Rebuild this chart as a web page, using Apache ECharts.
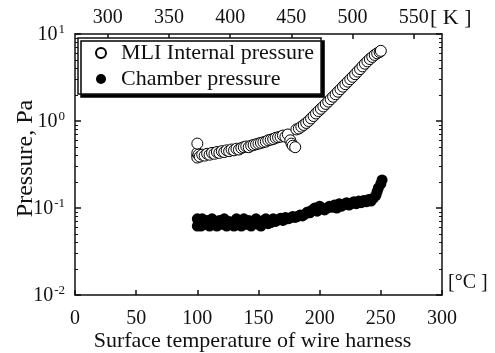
<!DOCTYPE html>
<html>
<head>
<meta charset="utf-8">
<script src="https://cdn.jsdelivr.net/npm/echarts@6/dist/echarts.min.js"></script>
<style>
  html, body { margin: 0; padding: 0; background: #fff; }
  #chart { width: 495px; height: 353px; }
</style>
</head>
<body>
<div id="chart"></div>
<script>
// surface temperature [°C], pressure [Pa]
const mliTemp = [100, 100, 100, 100, 101, 102, 104, 106, 108, 110, 112, 114, 116, 118, 120, 122, 124, 126, 128, 130,
  132, 134, 136, 138, 140, 142, 144, 146, 148, 150, 152, 154, 156, 158, 160, 162, 164, 166, 168, 170,
  172, 174, 176, 177, 178, 180, 181, 183, 185, 187, 189, 191, 193, 195, 197, 199, 201, 203, 205, 207,
  209, 211, 213, 215, 217, 219, 221, 223, 225, 227, 229, 231, 233, 235, 237, 239, 241, 243, 245, 247, 249, 250]
const mliPress = [0.40, 0.38, 0.43, 0.55, 0.41, 0.39, 0.41, 0.40, 0.42, 0.41, 0.43, 0.42, 0.44, 0.43, 0.45, 0.44, 0.46, 0.45, 0.47, 0.46,
  0.48, 0.47, 0.49, 0.50, 0.51, 0.50, 0.52, 0.53, 0.54, 0.55, 0.56, 0.57, 0.58, 0.60, 0.61, 0.62, 0.64, 0.65, 0.66, 0.68,
  0.66, 0.70, 0.60, 0.55, 0.52, 0.50, 0.80, 0.82, 0.86, 0.90, 0.95, 1.00, 1.07, 1.14, 1.22, 1.30, 1.38, 1.47, 1.57, 1.67,
  1.78, 1.90, 2.03, 2.17, 2.32, 2.48, 2.65, 2.83, 3.02, 3.22, 3.45, 3.70, 3.95, 4.25, 4.55, 4.85, 5.15, 5.45, 5.75, 6.00, 6.20, 6.40]

const chamberTemp = [100, 100, 101, 103, 104, 106, 108, 110, 112, 114, 116, 118, 120, 122, 124, 126, 128, 130, 132, 134,
  136, 138, 140, 142, 144, 146, 148, 150, 152, 154, 156, 158, 160, 162, 164, 166, 168, 170, 172, 174,
  176, 178, 180, 182, 184, 186, 188, 190, 192, 194, 196, 198, 200, 202, 204, 206, 208, 210, 212, 214,
  216, 218, 220, 222, 224, 226, 228, 230, 232, 234, 236, 238, 240, 242, 244, 246, 247, 248, 250, 251]
const chamberPress = [0.075, 0.062, 0.068, 0.062, 0.075, 0.065, 0.072, 0.062, 0.075, 0.065, 0.062, 0.072, 0.065, 0.075, 0.062, 0.070, 0.065, 0.062, 0.075, 0.068,
  0.062, 0.075, 0.065, 0.072, 0.062, 0.068, 0.075, 0.065, 0.062, 0.072, 0.075, 0.066, 0.068, 0.075, 0.070, 0.073, 0.076, 0.072, 0.078, 0.075,
  0.077, 0.080, 0.078, 0.080, 0.083, 0.081, 0.085, 0.090, 0.088, 0.095, 0.100, 0.092, 0.105, 0.098, 0.095, 0.100, 0.105, 0.102, 0.108, 0.100,
  0.112, 0.105, 0.110, 0.115, 0.108, 0.112, 0.118, 0.112, 0.120, 0.115, 0.122, 0.118, 0.125, 0.120, 0.130, 0.140, 0.155, 0.170, 0.190, 0.210]

const kelvinTicks = [300, 350, 400, 450, 500, 550]
const minorMantissas = [2, 3, 4, 5, 6, 7, 8, 9]
const decades = [-2, -1, 0]

const FONT = '"Liberation Serif", "DejaVu Serif", serif'
const INK = '#111'

// minor tick positions on a linear log10 axis laid over the log axis
const minorLog = []
decades.forEach(d => minorMantissas.forEach(m => minorLog.push(d + Math.log10(m))))

const zip = (xs, ys) => xs.map((x, i) => [x, ys[i]])

const supLabel = v => {
  const e = Math.round(Math.log10(v))
  return '{b|10}{s|' + e + '}'
}

const chart = echarts.init(document.getElementById('chart'))

const lineStyle = { color: INK, width: 1.5 }
const hiddenAxis = { show: false }

chart.setOption({
  animation: false,
  textStyle: { fontFamily: FONT, color: INK },
  grid: { left: 75, right: 53, top: 34, bottom: 58, containLabel: false, outerBoundsMode: 'none' },
  legend: {
    orient: 'vertical',
    left: 78,
    top: 38,
    itemWidth: 10,
    itemHeight: 10,
    itemGap: 4,
    padding: [4, 7, 4, 17],
    borderColor: INK,
    borderWidth: 1.5,
    backgroundColor: '#fff',
    shadowColor: '#000',
    shadowBlur: 0,
    shadowOffsetX: 3,
    shadowOffsetY: 3,
    textStyle: { fontFamily: FONT, fontSize: 22, color: INK, padding: [0, 0, 0, 10] },
    data: ['MLI Internal pressure', 'Chamber pressure']
  },
  xAxis: [
    {
      type: 'value', position: 'bottom', min: 0, max: 300, interval: 50,
      name: 'Surface temperature of wire harness', nameLocation: 'middle', nameGap: 35,
      nameMoveOverlap: false,
      nameTextStyle: { fontFamily: FONT, fontSize: 22, color: INK, padding: [0, 12, 0, 0] },
      axisLine: { onZero: false, lineStyle },
      axisTick: { inside: true, length: 5, lineStyle },
      axisLabel: { fontFamily: FONT, fontSize: 20, color: INK, margin: 14 },
      splitLine: { show: false }
    },
    {
      type: 'value', position: 'top', min: 273.15, max: 573.15,
      axisLine: { onZero: false, lineStyle },
      axisTick: { inside: true, length: 5, lineStyle, customValues: kelvinTicks },
      axisLabel: { fontFamily: FONT, fontSize: 20, color: INK, margin: 6, customValues: kelvinTicks },
      splitLine: { show: false }
    }
  ],
  yAxis: [
    {
      type: 'log', logBase: 10, min: 0.01, max: 10, position: 'left',
      name: 'Pressure, Pa', nameLocation: 'middle', nameGap: 37,
      nameMoveOverlap: false,
      nameTextStyle: { fontFamily: FONT, fontSize: 24, color: INK, padding: [0, 0, 0, 12] },
      axisLine: { onZero: false, lineStyle },
      axisTick: { inside: true, length: 6, lineStyle },
      axisLabel: {
        margin: 10,
        formatter: supLabel,
        rich: {
          b: { fontFamily: FONT, fontSize: 20, color: INK, verticalAlign: 'bottom', lineHeight: 22 },
          s: { fontFamily: FONT, fontSize: 13, color: INK, verticalAlign: 'top', lineHeight: 13, padding: [0, 0, 11, 1] }
        }
      },
      splitLine: { show: false }
    },
    {
      type: 'value', min: -2, max: 1, position: 'left',
      axisLine: { show: false, onZero: false }, axisLabel: hiddenAxis, splitLine: hiddenAxis,
      axisTick: { inside: true, length: 3, lineStyle: { color: INK, width: 1 }, customValues: minorLog }
    },
    {
      type: 'log', logBase: 10, min: 0.01, max: 10, position: 'right',
      axisLine: { onZero: false, lineStyle },
      axisTick: { inside: true, length: 6, lineStyle },
      axisLabel: hiddenAxis, splitLine: hiddenAxis
    },
    {
      type: 'value', min: -2, max: 1, position: 'right',
      axisLine: { show: false, onZero: false }, axisLabel: hiddenAxis, splitLine: hiddenAxis,
      axisTick: { inside: true, length: 3, lineStyle: { color: INK, width: 1 }, customValues: minorLog }
    }
  ],
  graphic: [
    { type: 'text', left: 430, top: 7, style: { text: '[ K ]', font: '22px ' + FONT, fill: INK } },
    { type: 'text', left: 448, top: 273, style: { text: '[°C ]', font: '20px ' + FONT, fill: INK } }
  ],
  series: [
    {
      name: 'MLI Internal pressure', type: 'scatter', xAxisIndex: 0, yAxisIndex: 0,
      symbol: 'circle', symbolSize: 11,
      itemStyle: { color: '#fff', borderColor: '#000', borderWidth: 1, opacity: 1 },
      data: zip(mliTemp, mliPress)
    },
    {
      name: 'Chamber pressure', type: 'scatter', xAxisIndex: 0, yAxisIndex: 0,
      symbol: 'circle', symbolSize: 11,
      itemStyle: { color: '#000', opacity: 1 },
      data: zip(chamberTemp, chamberPress)
    }
  ]
})
</script>
</body>
</html>
